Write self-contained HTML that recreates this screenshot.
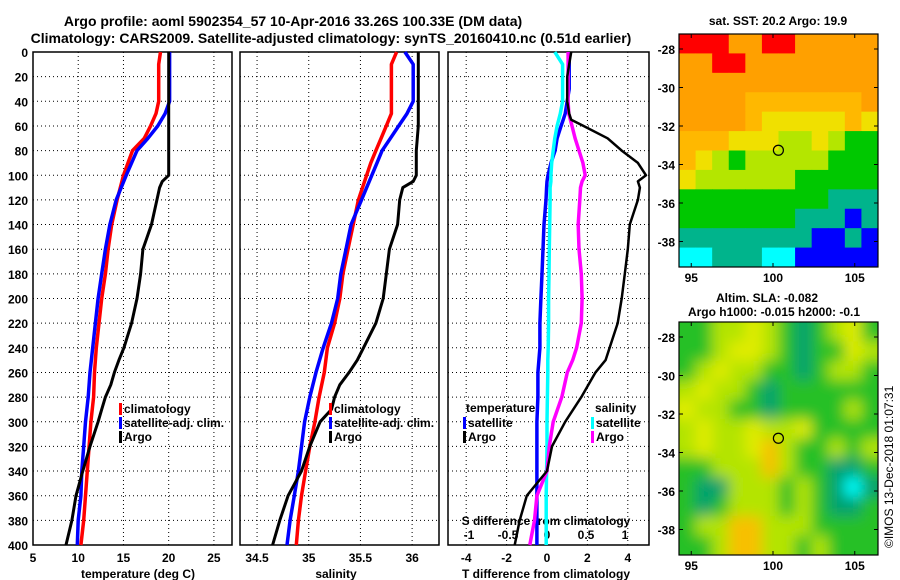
<!DOCTYPE html>
<html><head><meta charset="utf-8"><style>
body{margin:0;background:#fff;}
svg{display:block;font-family:"Liberation Sans",Arial,sans-serif;font-weight:bold;}
</style></head><body>
<svg id="c" width="900" height="580" viewBox="0 0 900 580" xmlns="http://www.w3.org/2000/svg">
<defs>
<filter id="blur" x="-5%" y="-5%" width="110%" height="110%"><feGaussianBlur stdDeviation="7"/></filter>
<clipPath id="clip2"><rect x="679" y="322" width="199" height="233"/></clipPath>
</defs>
<rect width="900" height="580" fill="#fff"/>
<text x="293" y="26" font-size="14" text-anchor="middle">Argo profile: aoml 5902354_57 10-Apr-2016 33.26S 100.33E (DM data)</text>
<text x="331" y="43" font-size="14" text-anchor="middle">Climatology: CARS2009. Satellite-adjusted climatology: synTS_20160410.nc (0.51d earlier)</text>
<g id="g"></g>
</svg>
<script>
// ---- data ----
const tDepth = [0,10,20,30,40,50,60,70,80,90,100,120,140,160,180,200,220,240,260,280,300,320,340,360,380,400];
const tClim  = [19.1,18.9,18.9,18.9,18.9,18.6,18.0,17.3,16.0,15.5,15.0,14.3,13.7,13.3,13.0,12.6,12.3,12.0,11.8,11.7,11.4,11.2,11.0,10.8,10.6,10.3];
const tSat   = [20.1,20.1,20.1,20.1,20.1,19.6,18.8,17.7,16.5,15.9,15.3,14.2,13.5,13.0,12.6,12.2,11.9,11.6,11.3,11.1,10.8,10.6,10.4,10.3,10.0,9.9];
const argoDepth = [0,20,40,60,80,100,105,110,120,140,160,180,200,220,240,250,260,270,280,290,300,320,340,360,380,400];
const argoT  = [20.0,20.0,20.0,20.0,20.0,20.0,19.3,19.0,18.7,18.1,17.15,16.9,16.5,15.9,15.05,14.5,14.0,13.6,13.0,12.6,12.2,11.3,10.5,9.75,9.3,8.65];
const argoS  = [36.06,36.06,36.06,36.06,36.04,36.04,36.01,35.91,35.88,35.86,35.78,35.75,35.72,35.65,35.53,35.47,35.39,35.30,35.25,35.22,35.11,35.01,34.93,34.80,34.72,34.65];
const sClim  = [35.85,35.80,35.80,35.80,35.80,35.80,35.75,35.70,35.65,35.60,35.56,35.48,35.43,35.38,35.33,35.30,35.25,35.18,35.15,35.10,35.06,35.01,34.97,34.93,34.90,34.88];
const sSat   = [35.93,36.01,36.01,36.01,36.01,35.95,35.87,35.79,35.71,35.66,35.61,35.51,35.41,35.36,35.31,35.28,35.22,35.14,35.07,35.01,34.96,34.93,34.90,34.86,34.82,34.79];
const dDepth = [0,10,20,30,40,50,55,60,70,80,90,100,105,110,120,140,160,180,200,220,240,250,260,280,300,320,340,360,380,400];
const dTsat  = [1.1,1.1,1.1,1.1,1.0,0.9,0.8,0.7,0.5,0.4,0.2,0.05,0.0,-0.02,-0.05,-0.15,-0.2,-0.25,-0.3,-0.35,-0.35,-0.4,-0.45,-0.45,-0.5,-0.5,-0.5,-0.5,-0.5,-0.5];
const dTargo = [1.2,1.1,1.0,1.0,1.0,1.1,1.2,1.8,3.0,3.7,4.5,4.9,4.5,4.6,4.5,4.1,4.0,3.85,3.7,3.5,3.1,2.9,2.4,1.7,0.9,0.25,0.0,-1.0,-1.35,-1.6];
const dSsat  = [0.1,0.2,0.2,0.2,0.2,0.17,0.15,0.13,0.1,0.08,0.06,0.05,0.05,0.04,0.04,0.035,0.03,0.025,0.02,0.02,0.015,0.01,0.01,0.005,0.0,0.0,-0.005,-0.01,-0.01,-0.01];
const dSargo = [0.27,0.27,0.27,0.27,0.27,0.28,0.3,0.32,0.36,0.41,0.46,0.49,0.45,0.43,0.42,0.4,0.41,0.44,0.45,0.44,0.38,0.33,0.26,0.19,0.08,0.03,0.0,-0.13,-0.16,-0.22];
const depthTicks = [0,20,40,60,80,100,120,140,160,180,200,220,240,260,280,300,320,340,360,380,400];
const tTicks = [5,10,15,20,25];
const sTicks = [34.5,35,35.5,36];
const dtTicks = [-4,-2,0,2,4];
const dsTicks = [-1,-0.5,0,0.5,1];
const lonTicks = [95,100,105];
const latTicks = [-28,-30,-32,-34,-36,-38];
const sstGrid = ["RRROORROOOOO","OORROOOOOOOO","OOOOOOOOOOOO","OOOOoooooooO","OOOOoYYYYYoY","oooYYYyyYyGG","oYyGyyyyyGGG","YyyyyyyGGGGG","GGGGGGGGGTTT","GGGGGGGTTTBT","TTTTTTTTBBTB","CCTTTCCBBBBB"];
const slaGrid = ["GGyyYyGgGyYG","GGyYYyGgGGYy","GyYyyGGgGyyG","yYyyGgGGGGGG","YyyGGgGGGGyG","yYyyYyyYGGGG","yYyyYOyGGyGy","GGyyyOyGGggG","GggyyyGyGgCg","GgGyyyGyGggG","GyyOOyyyGGGG","GGyOOyyGyGGG"];
const profLon = 100.33, profLat = -33.26;

// ---- helpers ----
const NS="http://www.w3.org/2000/svg";
const G=document.getElementById('g');
function mk(tag,attrs,parent){const e=document.createElementNS(NS,tag);for(const k in attrs)e.setAttribute(k,attrs[k]);(parent||G).appendChild(e);return e;}
function txt(x,y,s,size,anchor,parent){const e=mk('text',{x:x,y:y,'font-size':size,'text-anchor':anchor||'middle'},parent);e.textContent=s;return e;}
const Y0=52, YS=(545-52)/400;
const yD=d=>Y0+d*YS;
const panels=[
 {x0:33,x1:232,v0:5,v1:27,name:'temperature'},
 {x0:240,x1:439,v0:34.335,v1:36.26,name:'salinity'},
 {x0:448,x1:649,v0:-4.9,v1:5.05,name:'difference'}];
const xT=v=>33+(v-5)*(199/22);
const xS=v=>240+(v-34.335)*(199/(36.26-34.335));
const xDT=v=>547+v*20.2;
const xDS=v=>547+v*78;

function frame(p,ticks,xf,nm){
  const g=mk('g',{});
  
  
  depthTicks.forEach(d=>{if(d>0&&d<400)mk('line',{x1:p.x0,x2:p.x1,y1:yD(d),y2:yD(d),stroke:'#000','stroke-width':1,'stroke-dasharray':'1 3'},g);});
  ticks.forEach(t=>{const x=xf(t);if(x>p.x0+2&&x<p.x1-2){mk('line',{x1:x,x2:x,y1:Y0,y2:545,stroke:'#000','stroke-width':1,'stroke-dasharray':'1 3'},g);}});
  mk('rect',{x:p.x0,y:Y0,width:p.x1-p.x0,height:545-Y0,fill:'none',stroke:'#000','stroke-width':1.5},g);
  return g;
}
function line(xs,ds,xf,col,w,nm){
  const pts=xs.map((v,i)=>xf(v).toFixed(1)+','+yD(ds[i]).toFixed(1)).join(' ');
  const e=mk('polyline',{points:pts,fill:'none',stroke:col,'stroke-width':w,'stroke-linejoin':'round'});
  
  
}
function legend(x,y,col,label,nm){
  const r=mk('rect',{x:x,y:y-10,width:3,height:12,fill:col});
  
  
  const t=txt(x+5,y,label,12,'start');
  
  
}

// Panel 1
frame(panels[0],tTicks,xT,'temperature');
depthTicks.forEach(d=>{const t=txt(28,yD(d)+5,String(d),12,'end');});
tTicks.forEach(v=>{const t=txt(xT(v),562,String(v),12);});
{const t=txt(138,578,'temperature (deg C)',12);}
line(tClim,tDepth,xT,'#f00',3.5,'temperature-climatology-line');
line(tSat,tDepth,xT,'#00f',3.5,'temperature-satellite-line');
line(argoT,argoDepth,xT,'#000',3,'temperature-argo-line');
legend(119,413,'#f00','climatology','legend-climatology');
legend(119,427,'#00f','satellite-adj. clim.','legend-satellite-adj');
legend(119,441,'#000','Argo','legend-argo');

// Panel 2
frame(panels[1],sTicks,xS,'salinity');
sTicks.forEach(v=>{const t=txt(xS(v),562,String(v),12);});
{const t=txt(336,578,'salinity',12);}
line(sClim,tDepth,xS,'#f00',3.5,'salinity-climatology-line');
line(sSat,tDepth,xS,'#00f',3.5,'salinity-satellite-line');
line(argoS,argoDepth,xS,'#000',3,'salinity-argo-line');
legend(329,413,'#f00','climatology','legend-s-climatology');
legend(329,427,'#00f','satellite-adj. clim.','legend-s-satellite-adj');
legend(329,441,'#000','Argo','legend-s-argo');

// Panel 3
frame(panels[2],dtTicks,xDT,'difference');
dtTicks.forEach(v=>{const t=txt(xDT(v),562,String(v),12);});
dsTicks.forEach(v=>{const t=txt(xDS(v),539,String(v),12);});
{const t=txt(546,578,'T difference from climatology',12);}
{const t=txt(546,525,'S difference from climatology',12);}
line(dTsat,dDepth,xDT,'#00f',3.5,'t-diff-satellite-line');
line(dSsat,dDepth,xDS,'#0ff',3.5,'s-diff-satellite-line');
line(dSargo,dDepth,xDS,'#f0f',3.5,'s-diff-argo-line');
line(dTargo,dDepth,xDT,'#000',2.5,'t-diff-argo-line');
{const t=txt(466,412,'temperature',12,'start');}
legend(463,427,'#00f','satellite','legend-t-satellite');
legend(463,441,'#000','Argo','legend-t-argo');
{const t=txt(595,412,'salinity',12,'start');}
legend(591,427,'#0ff','satellite','legend-s-sat');
legend(591,441,'#f0f','Argo','legend-s-argo2');

// Maps
const sstCol={R:'#ff0000',O:'#ffa000',o:'#ffb800',Y:'#f0e000',y:'#b4e600',G:'#00c800',T:'#00b48c',C:'#00ffff',B:'#0000ff',K:'#000'};
const slaCol={G:'#28c028',g:'#00a070',y:'#b4e400',Y:'#e0ec00',O:'#f8c000',C:'#00ffff'};
function map(top,grid,cols,blur,nm){
  const x0=679,x1=878,y0=top,y1=top+233;
  const g=mk('g',blur?{'clip-path':'url(#clip2)'}:{});
  
  
  const inner=blur?mk('g',{filter:'url(#blur)'},g):g;
  if(blur) mk('rect',{x:x0-20,y:y0-20,width:240,height:273,fill:'#28c028'},inner);
  const nr=grid.length,nc=grid[0].length,cw=(x1-x0)/nc,ch=(y1-y0)/nr;
  grid.forEach((row,r)=>{[...row].forEach((c,k)=>{
    const ex=blur&&(k==0||k==nc-1)?10:0, ey=blur&&(r==0||r==nr-1)?10:0;
    const cell=mk('rect',{x:x0+k*cw-(blur&&k==0?ex:0),y:y0+r*ch-(blur&&r==0?ey:0),width:cw+0.5+ex,height:ch+0.5+ey,fill:cols[c]},inner);
    
    
  });});
  const lx=v=>773+(v-100)*16.35, ly=v=>top+15+(-28-v)*19.25;
  mk('rect',{x:x0,y:y0,width:x1-x0,height:y1-y0,fill:'none',stroke:'#000','stroke-width':1.2});
  lonTicks.forEach(v=>{mk('line',{x1:lx(v),x2:lx(v),y1:y1,y2:y1-4,stroke:'#000'});mk('line',{x1:lx(v),x2:lx(v),y1:y0,y2:y0+4,stroke:'#000'});
    const t=txt(lx(v),y1+15,String(v),12);});
  latTicks.forEach(v=>{mk('line',{x1:x0,x2:x0+4,y1:ly(v),y2:ly(v),stroke:'#000'});mk('line',{x1:x1,x2:x1-4,y1:ly(v),y2:ly(v),stroke:'#000'});
    const t=txt(675,ly(v)+5,String(v),12,'end');});
  const m=mk('circle',{cx:lx(profLon),cy:ly(profLat),r:5,fill:'none',stroke:'#000','stroke-width':1.2});
  
  
}
map(34,sstGrid,sstCol,false,'sst-map');
map(322,slaGrid,slaCol,true,'sla-map');
{const t=txt(778,25,'sat. SST: 20.2 Argo: 19.9',12);}
{const t=txt(767,302,'Altim. SLA: -0.082',12);}
{const t=txt(774,316,'Argo h1000: -0.015 h2000: -0.1',12);}
{const t=txt(0,0,'©IMOS 13-Dec-2018 01:07:31',12,'start');t.setAttribute('transform','translate(893,548) rotate(-90)');t.setAttribute('font-weight','normal');}
</script>
</body></html>
